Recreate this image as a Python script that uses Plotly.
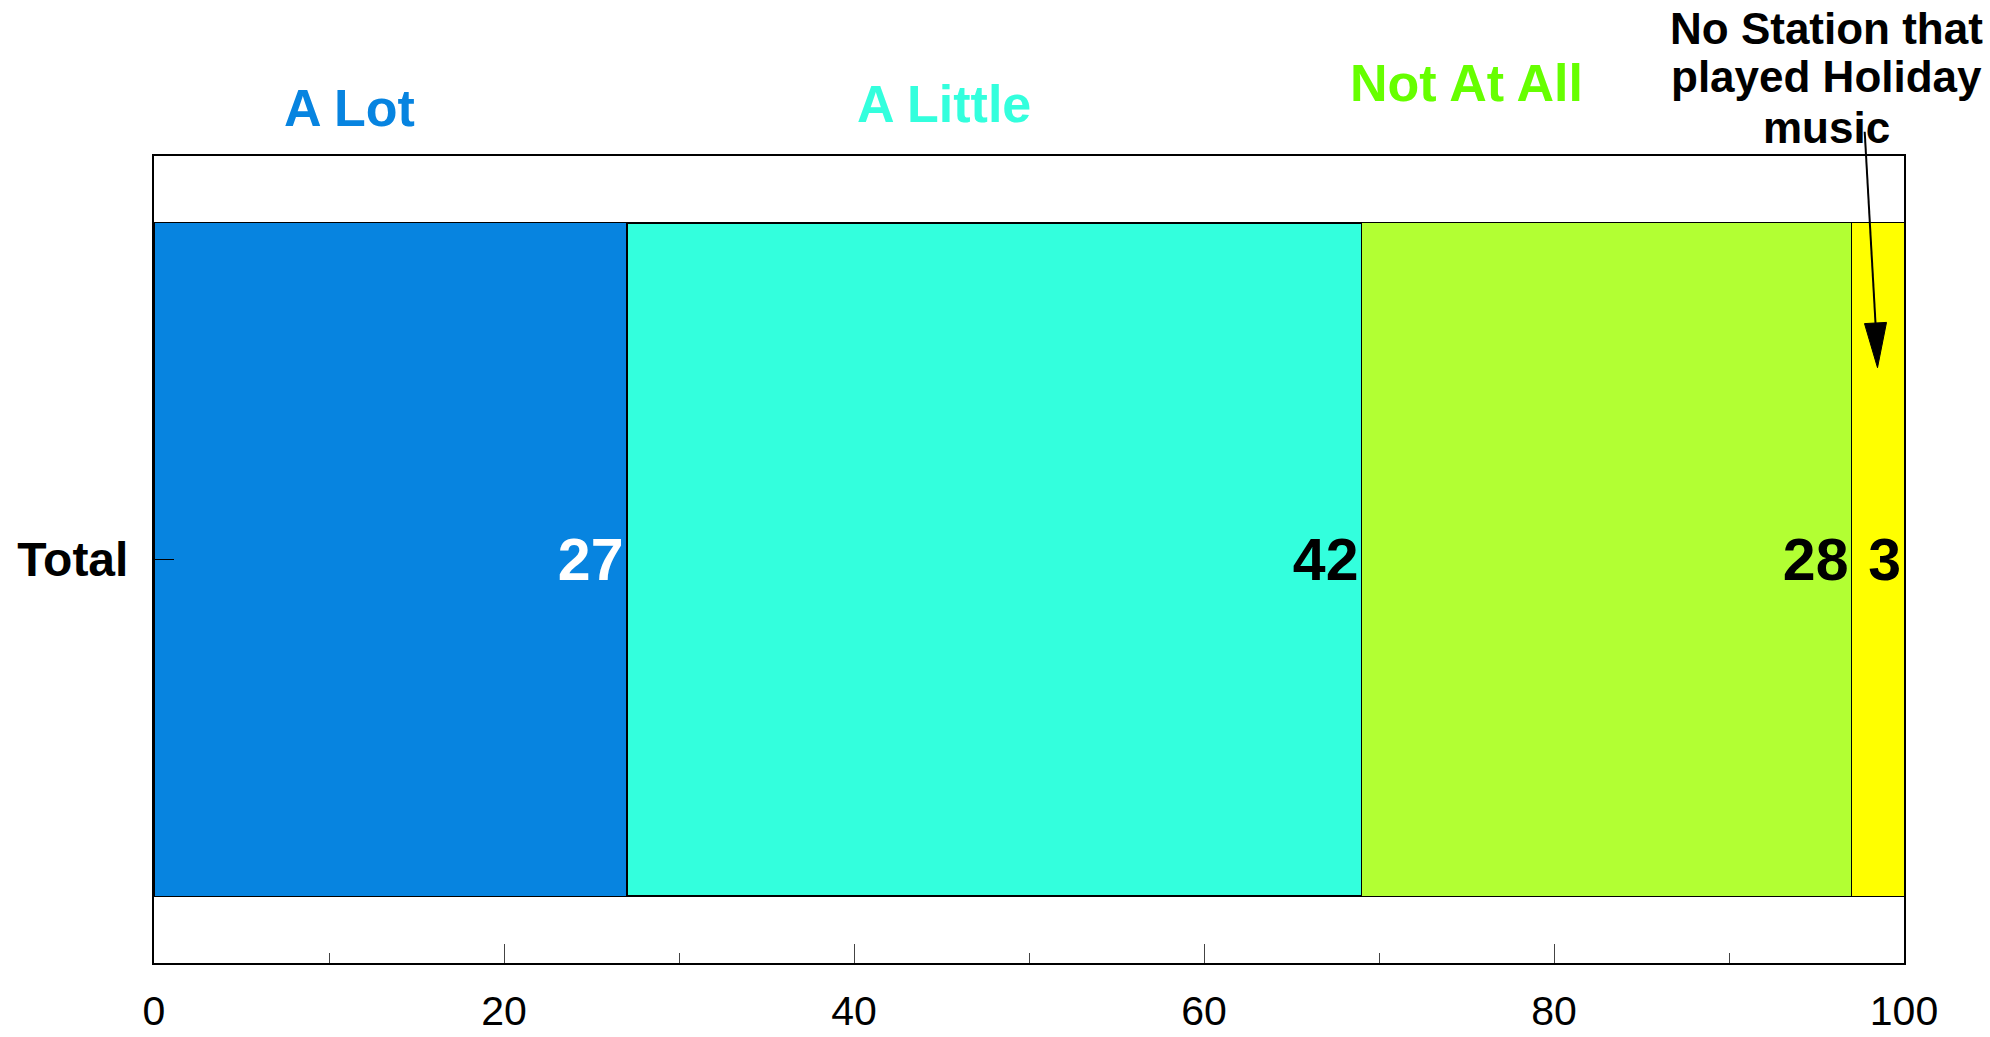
import plotly.graph_objects as go

categories = ["Total"]
series_names = ["A Lot", "A Little", "Not At All", "No Station that played Holiday music"]
series_values = [[27], [42], [28], [3]]
series_colors = ["#0784E0", "#33FFDD", "#B2FF33", "#FFFF00"]
label_colors = ["#FFFFFF", "#000000", "#000000", "#000000"]
header_colors = ["#0784E0", "#33FFDD", "#66FF00", "#000000"]
x_ticks = [0, 20, 40, 60, 80, 100]
note_lines = ["No Station that", "played Holiday", "music"]

FONT = "Liberation Sans, Arial, sans-serif"

fig = go.Figure()
for i, (name, vals) in enumerate(zip(series_names, series_values)):
    fig.add_trace(go.Bar(
        name=name, y=categories, x=vals, orientation="h", width=0.834,
        marker=dict(color=series_colors[i],
                    line=dict(color="#000000", width=2 if i == 1 else 1)),
        text=[str(v) for v in vals], textposition="inside", insidetextanchor="end",
        textfont=dict(family=FONT, size=59, color=label_colors[i], weight="bold"),
        textangle=0, constraintext="none", cliponaxis=False,
    ))

# header labels
hdr = [("A Lot", 0.1117, 1.059), ("A Little", 0.4517, 1.064), ("Not At All", 0.75, 1.091)]
for (t, xp, yp), c in zip(hdr, header_colors):
    fig.add_annotation(text="<b>%s</b>" % t, xref="paper", yref="paper", x=xp, y=yp,
                       showarrow=False, xanchor="center", yanchor="middle",
                       font=dict(family=FONT, size=52, color=c))

# note text, one annotation per line for tight line spacing
for line, yp in zip(note_lines, [1.1586, 1.0979, 1.0359]):
    fig.add_annotation(text="<b>%s</b>" % line, xref="paper", yref="paper",
                       x=0.9557, y=yp, showarrow=False, xanchor="center", yanchor="middle",
                       font=dict(family=FONT, size=44, color="#000000"))

# arrow (paper coordinates): shaft + narrow filled head
tail = (0.97754, 1.03011)
base = (0.98371, 0.79306)
tip = (0.98486, 0.73767)
c1 = (0.99000, 0.79380)
c2 = (0.97743, 0.79232)
fig.add_shape(type="line", xref="paper", yref="paper", x0=tail[0], y0=tail[1],
              x1=base[0], y1=base[1], line=dict(color="#000000", width=2))
fig.add_shape(type="path", xref="paper", yref="paper",
              path="M %f,%f L %f,%f L %f,%f Z" % (c1[0], c1[1], tip[0], tip[1], c2[0], c2[1]),
              fillcolor="#000000", line=dict(color="#000000", width=1))

fig.update_layout(
    barmode="stack", showlegend=False, width=1990, height=1037,
    paper_bgcolor="white", plot_bgcolor="white",
    margin=dict(l=154, r=86, t=156, b=74, autoexpand=False),
    font=dict(family=FONT, color="#000000"),
)
fig.update_xaxes(range=[0, 100], tickvals=x_ticks, ticks="inside", ticklen=19, tickwidth=1,
                 tickcolor="#444444", showgrid=False, zeroline=False, showline=True,
                 linecolor="#000000", linewidth=2, mirror=True, automargin=False,
                 tickfont=dict(family=FONT, size=41, color="#000000"), ticklabelstandoff=11,
                 minor=dict(dtick=10, tick0=0, ticks="inside", ticklen=10, tickwidth=1,
                            tickcolor="#444444", showgrid=False))
fig.update_yaxes(range=[-0.5, 0.5], ticks="inside", ticklen=20, tickwidth=1, tickcolor="#000000",
                 showgrid=False, zeroline=False, showline=True, linecolor="#000000",
                 linewidth=2, mirror=True, ticklabelstandoff=14, automargin=False,
                 tickfont=dict(family=FONT, size=48, color="#000000", weight="bold"))

fig.write_html("out.html", config={"displayModeBar": False},
               post_script="document.body.style.margin='0px';")
